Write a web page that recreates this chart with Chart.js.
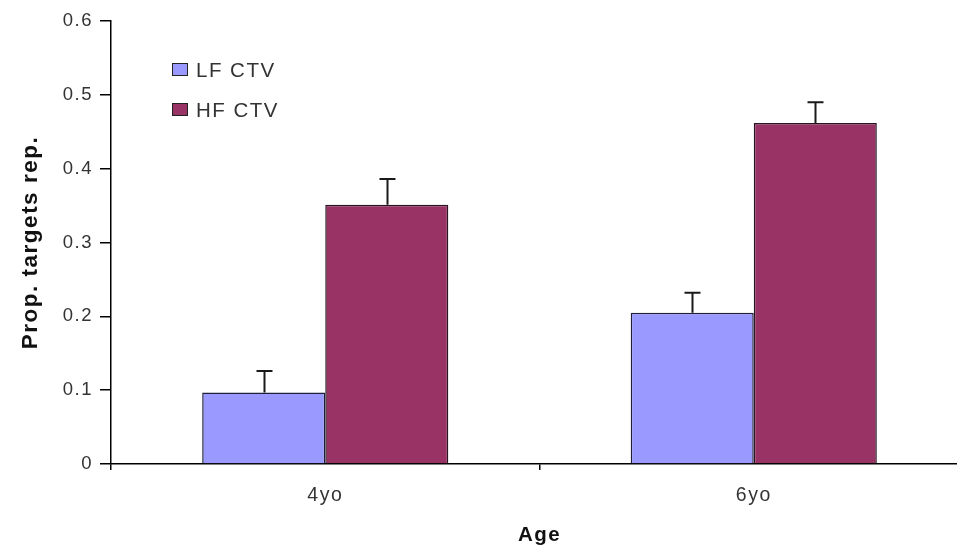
<!DOCTYPE html>
<html>
<head>
<meta charset="utf-8">
<script src="https://cdn.jsdelivr.net/npm/chart.js@4.4.1/dist/chart.umd.min.js"></script>
<style>
  html, body { margin: 0; padding: 0; background: #fff; overflow: hidden; }
  #wrap { width: 980px; height: 555px; }
</style>
</head>
<body>
<div id="wrap"><canvas id="c" width="980" height="555"></canvas></div>
<script>
// Age groups on the x axis
const ages = ['4yo', '6yo'];
// Series names
const seriesNames = ['LF CTV', 'HF CTV'];
// Mean proportion of targets repeated
const lfValues = [0.097, 0.205];
const hfValues = [0.351, 0.462];
// Upper error (standard error) per bar
const lfErrors = [0.029, 0.027];
const hfErrors = [0.035, 0.028];
// Y axis range
const yMin = 0, yMax = 0.6, yStep = 0.1;

const FONT = "'Liberation Sans', Arial, sans-serif";
const SPACING = '1.5px';

// Slightly wider glyph spacing for all canvas text
const spacingPlugin = {
  id: 'spacing',
  beforeLayout(chart) { chart.ctx.letterSpacing = SPACING; },
  beforeDraw(chart) { chart.ctx.letterSpacing = SPACING; }
};

// Upper error whiskers with a flat cap
const errorBars = {
  id: 'errorBars',
  afterDatasetsDraw(chart) {
    const ctx = chart.ctx;
    const y = chart.scales.y;
    ctx.save();
    ctx.strokeStyle = '#1a1a1a';
    ctx.lineWidth = 2;
    chart.data.datasets.forEach((ds, i) => {
      const meta = chart.getDatasetMeta(i);
      meta.data.forEach((bar, j) => {
        const top = y.getPixelForValue(ds.data[j] + ds.errors[j]);
        const x = Math.round(bar.x) + 0.5;
        ctx.beginPath();
        ctx.moveTo(x, bar.y);
        ctx.lineTo(x, top);
        ctx.moveTo(x - 8, top);
        ctx.lineTo(x + 8, top);
        ctx.stroke();
      });
    });
    ctx.restore();
  }
};

// Legend block in the upper left of the plot
const boxLegend = {
  id: 'boxLegend',
  afterDraw(chart) {
    const ctx = chart.ctx;
    ctx.save();
    ctx.letterSpacing = SPACING;
    ctx.font = '20.5px ' + FONT;
    ctx.textBaseline = 'middle';
    ctx.textAlign = 'left';
    chart.data.datasets.forEach((ds, i) => {
      const by = 63 + i * 40;
      ctx.fillStyle = ds.backgroundColor;
      ctx.fillRect(172, by, 16, 13);
      ctx.strokeStyle = '#222';
      ctx.lineWidth = 1;
      ctx.strokeRect(172.5, by + 0.5, 15, 12);
      ctx.fillStyle = '#333';
      ctx.fillText(ds.label, 196, by + 8);
    });
    ctx.restore();
  }
};

new Chart(document.getElementById('c'), {
  type: 'bar',
  data: {
    labels: ages,
    datasets: [
      { label: seriesNames[0], data: lfValues, errors: lfErrors,
        backgroundColor: '#9999ff', borderColor: '#1f1f3a', borderWidth: 1.5 },
      { label: seriesNames[1], data: hfValues, errors: hfErrors,
        backgroundColor: '#993366', borderColor: '#2a1420', borderWidth: 1.5 }
    ]
  },
  options: {
    responsive: false,
    animation: false,
    devicePixelRatio: 1,
    layout: { padding: { top: 21, right: 12, left: 0, bottom: 0 } },
    datasets: { bar: { categoryPercentage: 0.5744, barPercentage: 1.0 } },
    plugins: { legend: { display: false }, tooltip: { enabled: false } },
    scales: {
      x: {
        offset: true,
        grid: { display: true, offset: true, drawOnChartArea: false, drawTicks: true,
                tickLength: 6, color: '#000', lineWidth: 1.5 },
        border: { display: true, color: '#000', width: 1.5 },
        ticks: { color: '#333', padding: 14, font: { family: FONT, size: 19.5 } },
        title: { display: true, text: 'Age', color: '#111',
                 font: { family: FONT, size: 20.5, weight: 'bold' },
                 padding: { top: 0, bottom: 7 } },
        afterFit(scale) { scale.height = 91; }
      },
      y: {
        min: yMin, max: yMax,
        grid: { display: true, drawOnChartArea: false, drawTicks: true,
                tickLength: 11, color: '#000', lineWidth: 1.5 },
        border: { display: true, color: '#000', width: 1.5 },
        ticks: { stepSize: yStep, color: '#333', padding: 7,
                 font: { family: FONT, size: 18.5 },
                 callback: v => (v === 0 ? '0' : v.toFixed(1)) },
        title: { display: true, text: 'Prop. targets rep.', color: '#111',
                 font: { family: FONT, size: 22.5, weight: 'bold' },
                 padding: { top: 17, bottom: 0 } },
        afterFit(scale) { scale.width = 111; }
      }
    }
  },
  plugins: [spacingPlugin, errorBars, boxLegend]
});
</script>
</body>
</html>
